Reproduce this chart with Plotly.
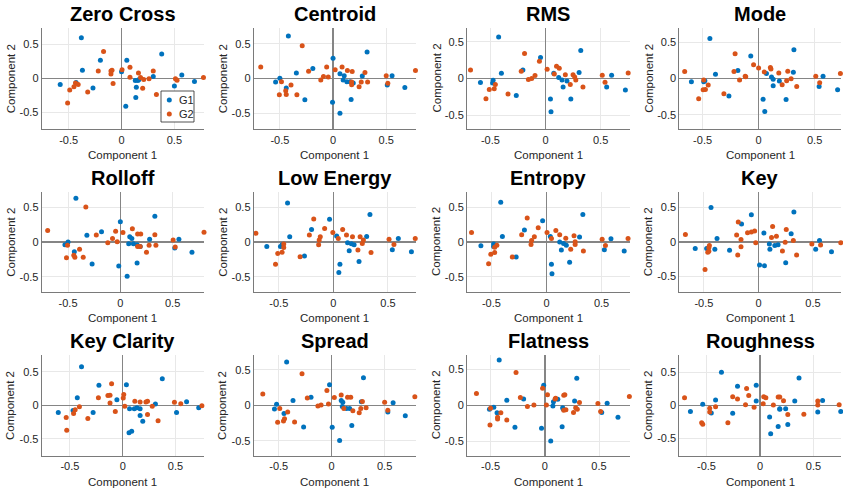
import plotly.graph_objects as go

# ---------------- data ----------------
titles = ["Zero Cross", "Centroid", "RMS", "Mode", "Rolloff", "Low Energy",
          "Entropy", "Key", "Key Clarity", "Spread", "Flatness", "Roughness"]
tick_values = [-0.5, 0, 0.5]
tick_labels = ["-0.5", "0", "0.5"]
group_names = ["G1", "G2"]

zero_cross_g1 = [(-0.38, 0.60), (-0.20, 0.27), (-0.37, 0.12), (-0.58, -0.09), (-0.43, -0.06), (-0.27, -0.14),
                 (0.00, 0.10), (0.05, 0.27), (0.38, 0.36), (0.30, 0.03), (0.13, -0.03), (0.155, -0.03),
                 (0.165, -0.015), (0.14, -0.13), (0.135, -0.28), (0.04, -0.41), (0.57, 0.05), (0.50, -0.11),
                 (0.69, -0.045)]
zero_cross_g2 = [(-0.76, 0.17), (-0.17, 0.40), (-0.22, 0.11), (-0.10, 0.11), (-0.09, 0.12), (-0.10, 0.065),
                 (-0.08, -0.075), (0.005, 0.13), (0.08, 0.165), (0.08, 0.02), (0.16, 0.08), (0.18, 0.015),
                 (0.21, -0.015), (0.26, -0.005), (0.20, -0.145), (0.30, 0.11), (0.33, -0.235), (-0.435, -0.065),
                 (-0.45, -0.12), (-0.41, -0.09), (-0.49, -0.17), (-0.32, -0.20), (-0.51, -0.36), (0.51, -0.005),
                 (0.525, -0.025), (0.775, 0.015)]

centroid_g1 = [(-0.42, 0.61), (0.32, 0.38), (0.00, 0.29), (-0.19, 0.145), (-0.345, 0.08), (-0.50, 0.005),
               (-0.54, -0.05), (-0.44, -0.135), (-0.265, -0.305), (-0.005, -0.34), (0.065, -0.50), (0.17, -0.30),
               (0.065, 0.07), (0.105, 0.04), (0.095, -0.02), (0.13, -0.045), (0.16, -0.045), (0.19, -0.065),
               (0.275, 0.035), (0.51, -0.095), (0.555, 0.04), (0.675, -0.13)]
centroid_g2 = [(-0.68, 0.165), (-0.29, 0.47), (-0.23, 0.105), (-0.06, 0.165), (-0.09, 0.03), (-0.045, 0.02),
               (-0.115, -0.02), (0.02, 0.125), (0.085, 0.165), (0.135, 0.115), (0.18, 0.10), (0.175, -0.05),
               (0.175, -0.09), (0.245, -0.12), (0.265, -0.05), (0.30, 0.085), (0.325, -0.05), (0.50, 0.04),
               (0.515, -0.07), (0.775, 0.115), (-0.485, -0.045), (-0.395, -0.095), (-0.445, -0.175),
               (-0.44, -0.23), (-0.505, -0.235), (-0.34, -0.235)]

rms_g1 = [(-0.425, 0.565), (-0.40, 0.07), (-0.59, -0.055), (-0.475, -0.025), (-0.48, -0.06), (-0.265, -0.23),
          (-0.205, 0.115), (-0.045, 0.285), (0.075, 0.07), (0.12, 0.015), (0.15, -0.02), (0.16, -0.115),
          (0.195, -0.035), (0.23, -0.28), (0.045, -0.28), (0.05, -0.45), (0.32, 0.38), (0.305, 0.08),
          (0.60, 0.045), (0.555, -0.115), (0.725, -0.155)]
rms_g2 = [(-0.68, 0.115), (-0.19, 0.34), (-0.22, 0.10), (-0.055, 0.235), (-0.095, 0.04), (-0.125, 0.0),
          (-0.155, -0.015), (0.015, 0.125), (0.10, 0.165), (0.125, 0.14), (0.08, 0.06), (0.18, 0.05),
          (0.25, 0.05), (0.265, 0.02), (0.275, -0.02), (0.225, -0.08), (0.34, -0.115), (0.515, 0.045),
          (0.54, -0.05), (0.75, 0.075), (-0.455, -0.08), (-0.465, -0.14), (-0.51, -0.15), (-0.54, -0.275),
          (-0.34, -0.21)]

mode_g1 = [(-0.435, 0.55), (-0.385, 0.06), (-0.60, -0.045), (-0.48, -0.03), (-0.49, -0.045), (-0.265, -0.24),
           (-0.185, 0.11), (-0.07, 0.31), (0.07, 0.07), (0.115, 0.02), (0.13, -0.01), (0.13, -0.10),
           (0.185, -0.035), (0.245, -0.29), (0.04, -0.285), (0.055, -0.455), (0.315, 0.395), (0.31, 0.085),
           (0.575, 0.03), (0.54, -0.11), (0.705, -0.155)]
mode_g2 = [(-0.66, 0.095), (-0.21, 0.34), (-0.22, 0.095), (-0.045, 0.19), (-0.12, 0.03), (-0.115, 0.025),
           (-0.17, -0.02), (0.0, 0.145), (0.105, 0.15), (0.11, 0.13), (0.05, 0.09), (0.18, 0.075),
           (0.26, 0.10), (0.29, -0.005), (0.25, -0.03), (0.21, -0.085), (0.34, -0.11), (0.51, 0.03),
           (0.545, -0.06), (0.73, 0.07), (-0.49, -0.02), (-0.45, -0.09), (-0.475, -0.15), (-0.495, -0.155),
           (-0.535, -0.28), (-0.31, -0.21)]

rolloff_g1 = [(-0.425, 0.625), (0.0, 0.29), (0.33, 0.37), (-0.18, 0.145), (-0.32, 0.095), (-0.50, 0.0),
              (-0.53, -0.04), (-0.44, -0.14), (-0.27, -0.315), (-0.015, -0.345), (0.065, -0.49), (0.16, -0.30),
              (0.09, 0.075), (0.11, 0.05), (0.08, -0.025), (0.125, -0.025), (0.16, -0.04), (0.19, -0.065),
              (0.28, 0.04), (0.52, -0.085), (0.56, 0.04), (0.685, -0.145)]
rolloff_g2 = [(-0.695, 0.165), (-0.33, 0.50), (-0.23, 0.10), (-0.045, 0.155), (-0.075, 0.05), (-0.03, 0.005),
              (-0.12, -0.01), (0.025, 0.135), (0.115, 0.19), (0.165, 0.115), (0.195, 0.115), (0.165, -0.065),
              (0.19, -0.065), (0.25, -0.145), (0.275, -0.045), (0.33, 0.105), (0.34, -0.045), (0.505, 0.03),
              (0.525, -0.07), (0.80, 0.14), (-0.505, -0.045), (-0.39, -0.105), (-0.445, -0.19), (-0.435, -0.22),
              (-0.515, -0.225), (-0.355, -0.22)]

low_energy_g1 = [(-0.42, 0.56), (-0.40, 0.075), (-0.61, -0.065), (-0.485, -0.065), (-0.47, -0.04),
                 (-0.265, -0.20), (-0.20, 0.18), (-0.035, 0.325), (0.03, 0.085), (0.13, -0.01), (0.145, -0.125),
                 (0.165, -0.025), (0.19, -0.04), (0.235, -0.28), (0.06, -0.32), (0.05, -0.435), (0.335, 0.395),
                 (0.305, 0.08), (0.595, 0.05), (0.54, -0.11), (0.715, -0.14)]
low_energy_g2 = [(-0.71, 0.125), (-0.18, 0.33), (-0.22, 0.10), (-0.08, 0.195), (-0.12, 0.075), (-0.13, 0.03),
                 (-0.135, -0.04), (-0.005, 0.135), (0.085, 0.18), (0.12, 0.10), (0.045, 0.05), (0.175, 0.075),
                 (0.245, 0.075), (0.275, 0.03), (0.265, -0.02), (0.225, -0.115), (0.345, -0.15), (0.51, 0.04),
                 (0.555, -0.035), (0.75, 0.05), (-0.455, -0.03), (-0.455, -0.08), (-0.47, -0.145),
                 (-0.51, -0.165), (-0.53, -0.32), (-0.305, -0.21)]

entropy_g1 = [(-0.415, 0.57), (-0.40, 0.08), (-0.595, -0.055), (-0.48, -0.03), (-0.48, -0.065), (-0.275, -0.215),
              (-0.20, 0.17), (-0.035, 0.305), (0.035, 0.08), (0.12, 0.0), (0.135, -0.115), (0.155, -0.02),
              (0.18, -0.045), (0.21, -0.29), (0.045, -0.32), (0.05, -0.455), (0.33, 0.395), (0.30, 0.07),
              (0.585, 0.045), (0.525, -0.11), (0.705, -0.13)]
entropy_g2 = [(-0.68, 0.135), (-0.175, 0.345), (-0.225, 0.105), (-0.075, 0.205), (-0.11, 0.075), (-0.135, 0.02),
              (-0.14, -0.035), (0.005, 0.135), (0.085, 0.165), (0.12, 0.105), (0.045, 0.05), (0.175, 0.055),
              (0.25, 0.09), (0.26, 0.005), (0.26, -0.035), (0.22, -0.105), (0.335, -0.13), (0.505, 0.04),
              (0.535, -0.05), (0.74, 0.05), (-0.45, -0.045), (-0.47, -0.075), (-0.47, -0.15), (-0.505, -0.175),
              (-0.525, -0.31), (-0.31, -0.215)]

key_g1 = [(-0.435, 0.50), (-0.38, 0.05), (-0.58, -0.095), (-0.475, -0.095), (-0.40, -0.105), (-0.265, -0.12),
          (-0.155, 0.26), (-0.065, 0.395), (0.05, 0.13), (0.10, -0.03), (0.105, -0.105), (0.15, -0.05),
          (0.18, -0.04), (0.25, -0.30), (0.01, -0.335), (0.055, -0.345), (0.325, 0.435), (0.30, 0.12),
          (0.56, 0.02), (0.525, -0.105), (0.67, -0.14)]
key_g2 = [(-0.67, 0.11), (-0.185, 0.29), (-0.20, 0.10), (-0.10, 0.135), (-0.065, 0.145), (-0.035, 0.16),
          (-0.16, 0.035), (-0.16, -0.07), (-0.19, -0.19), (-0.025, -0.01), (0.13, 0.225), (0.12, 0.065),
          (0.165, 0.085), (0.255, 0.18), (0.245, -0.005), (0.22, -0.13), (0.32, 0.02), (0.35, -0.19),
          (0.49, -0.03), (0.57, -0.045), (0.755, -0.01), (-0.45, -0.05), (-0.455, -0.085), (-0.455, -0.135),
          (-0.465, -0.15), (-0.49, -0.40)]

key_clarity_g1 = [(-0.39, 0.575), (-0.225, 0.30), (-0.43, 0.115), (-0.61, -0.105), (-0.47, -0.075),
                  (-0.28, -0.105), (-0.055, 0.085), (0.035, 0.305), (0.375, 0.395), (0.31, 0.02), (0.065, -0.05),
                  (0.11, -0.05), (0.135, -0.035), (0.165, -0.05), (0.165, -0.15), (0.19, -0.235), (0.06, -0.41),
                  (0.085, -0.385), (0.605, 0.055), (0.51, -0.105), (0.72, -0.035)]
key_clarity_g2 = [(-0.775, 0.145), (-0.105, 0.32), (-0.23, 0.115), (-0.14, 0.145), (-0.12, 0.15), (-0.12, 0.035),
                  (-0.07, -0.09), (0.01, 0.16), (0.005, 0.11), (0.02, -0.015), (0.115, 0.06), (0.165, 0.05),
                  (0.22, 0.05), (0.235, 0.06), (0.28, -0.015), (0.235, -0.135), (0.335, -0.23), (0.49, 0.045),
                  (0.55, 0.025), (0.75, -0.005), (-0.41, -0.02), (-0.45, -0.065), (-0.465, -0.12),
                  (-0.535, -0.18), (-0.53, -0.37), (-0.33, -0.195)]

spread_g1 = [(-0.425, 0.61), (-0.02, 0.29), (0.30, 0.39), (-0.195, 0.115), (-0.365, 0.07), (-0.52, 0.015),
             (-0.54, -0.05), (-0.45, -0.115), (-0.265, -0.305), (0.005, -0.31), (0.075, -0.495), (0.19, -0.285),
             (0.09, 0.07), (0.105, 0.045), (0.10, -0.015), (0.14, -0.045), (0.17, -0.045), (0.28, 0.05),
             (0.53, -0.095), (0.58, 0.035), (0.695, -0.145)]
spread_g2 = [(-0.65, 0.16), (-0.28, 0.445), (-0.23, 0.105), (-0.045, 0.21), (-0.10, 0.005), (-0.03, 0.02),
             (-0.13, -0.01), (0.025, 0.11), (0.09, 0.145), (0.15, 0.115), (0.18, 0.115), (0.115, -0.045),
             (0.20, -0.075), (0.26, -0.105), (0.275, -0.045), (0.29, 0.055), (0.325, -0.035), (0.50, 0.045),
             (0.53, -0.07), (0.785, 0.12), (-0.49, -0.045), (-0.415, -0.095), (-0.445, -0.19), (-0.455, -0.22),
             (-0.51, -0.24), (-0.35, -0.235)]

flatness_g1 = [(-0.42, 0.635), (-0.01, 0.28), (0.295, 0.38), (-0.195, 0.09), (-0.35, 0.07), (-0.47, -0.025),
               (-0.51, -0.055), (-0.44, -0.105), (-0.275, -0.305), (-0.03, -0.32), (0.055, -0.50), (0.16, -0.30),
               (0.08, 0.05), (0.075, -0.01), (0.12, 0.085), (0.165, -0.035), (0.17, -0.05), (0.275, 0.06),
               (0.525, -0.10), (0.575, 0.03), (0.675, -0.165)]
flatness_g2 = [(-0.63, 0.165), (-0.265, 0.46), (-0.225, 0.11), (-0.02, 0.24), (-0.10, 0.005), (0.015, 0.005),
               (-0.16, -0.015), (0.025, 0.15), (0.10, 0.10), (0.095, 0.09), (0.175, 0.14), (0.185, 0.15),
               (0.175, -0.07), (0.195, -0.06), (0.265, -0.10), (0.285, -0.035), (0.30, -0.055), (0.32, 0.04),
               (0.49, 0.025), (0.515, -0.085), (0.78, 0.125), (-0.50, -0.04), (-0.405, -0.105), (-0.435, -0.165),
               (-0.435, -0.19), (-0.505, -0.275), (-0.35, -0.205)]

roughness_g1 = [(-0.36, 0.50), (-0.21, 0.29), (-0.035, 0.305), (-0.035, 0.065), (-0.415, 0.08), (-0.535, 0.015),
                (-0.65, -0.095), (-0.455, -0.115), (-0.255, -0.12), (0.09, -0.175), (0.10, -0.43), (0.17, -0.32),
                (0.185, -0.05), (0.24, -0.05), (0.26, -0.29), (0.325, 0.065), (0.365, 0.415), (0.54, -0.10),
                (0.585, 0.075), (0.755, -0.095), (0.185, -0.06)]
roughness_g2 = [(-0.705, 0.115), (-0.30, -0.265), (-0.545, -0.265), (-0.535, -0.285), (-0.47, -0.045),
                (-0.47, -0.10), (-0.415, -0.02), (-0.255, 0.13), (-0.21, 0.095), (-0.125, 0.255), (-0.105, 0.15),
                (-0.135, 0.01), (-0.055, -0.03), (0.03, 0.025), (0.035, 0.13), (0.055, 0.115), (0.125, 0.005),
                (0.17, 0.125), (0.185, 0.125), (0.22, 0.07), (0.26, -0.14), (0.41, -0.135), (0.54, 0.065),
                (0.54, 0.005), (0.74, 0.01)]

panel_groups = [
    (zero_cross_g1, zero_cross_g2), (centroid_g1, centroid_g2), (rms_g1, rms_g2), (mode_g1, mode_g2),
    (rolloff_g1, rolloff_g2), (low_energy_g1, low_energy_g2), (entropy_g1, entropy_g2), (key_g1, key_g2),
    (key_clarity_g1, key_clarity_g2), (spread_g1, spread_g2), (flatness_g1, flatness_g2),
    (roughness_g1, roughness_g2),
]

# ---------------- layout / style ----------------
x_ranges = [[-0.755, 0.78], [-0.746, 0.78], [-0.712, 0.764], [-0.708, 0.738],
            [-0.752, 0.80], [-0.73, 0.757], [-0.721, 0.755], [-0.726, 0.76],
            [-0.767, 0.77], [-0.736, 0.796], [-0.717, 0.783], [-0.754, 0.76]]
y_ranges = [[-0.75, 0.75], [-0.73, 0.73], [-0.69, 0.69], [-0.70, 0.70],
            [-0.72, 0.72], [-0.72, 0.72], [-0.72, 0.72], [-0.73, 0.73],
            [-0.75, 0.75], [-0.71, 0.71], [-0.705, 0.705], [-0.763, 0.763]]

W, H = 843, 493
col_px = [(41.7, 204.0), (253.7, 416.0), (467.0, 629.7), (679.3, 841.3)]
row_px = [(27.7, 129.3), (191.7, 292.3), (355.0, 455.7)]
col_dom = [[a / W, b / W] for a, b in col_px]
row_dom = [[1 - b / H, 1 - a / H] for a, b in row_px]

C_G1 = "#0072BD"
C_G2 = "#D95319"
TXT = "#262626"
FONT = "Liberation Sans, Arial, Helvetica, sans-serif"

fig = go.Figure()
annotations = []
layout_axes = {}

for i, (title, (g1, g2)) in enumerate(zip(titles, panel_groups)):
    r, c = divmod(i, 4)
    sfx = "" if i == 0 else str(i + 1)
    xref, yref = "x" + sfx, "y" + sfx
    for pts, col, name in ((g1, C_G1, group_names[0]), (g2, C_G2, group_names[1])):
        fig.add_trace(go.Scatter(
            x=[p[0] for p in pts], y=[p[1] for p in pts], mode="markers", name=name,
            marker=dict(color=col, size=5, line=dict(width=0)),
            xaxis=xref, yaxis=yref, showlegend=False, cliponaxis=False, hoverinfo="skip",
        ))
    common = dict(tickvals=tick_values, ticktext=tick_labels, showgrid=True, gridcolor="#e8e8e8",
                  gridwidth=1, zeroline=True, zerolinecolor="#858585", zerolinewidth=1.5,
                  showline=True, linecolor="#7a7a7a", linewidth=1, ticks="",
                  tickfont=dict(size=11, color=TXT, family=FONT), fixedrange=True)
    layout_axes["xaxis" + sfx] = dict(domain=col_dom[c], anchor=yref, range=x_ranges[i], **common)
    layout_axes["yaxis" + sfx] = dict(domain=row_dom[r], anchor=xref, range=y_ranges[i], **common)

    annotations.append(dict(text="<b>" + title + "</b>", xref=xref + " domain", yref=yref + " domain",
                            x=0.5, y=1, xanchor="center", yanchor="middle", yshift=14, showarrow=False,
                            font=dict(size=20, color="#000000", family=FONT)))
    annotations.append(dict(text="Component 1", xref=xref + " domain", yref=yref + " domain",
                            x=0.5, y=0, xanchor="center", yanchor="middle", yshift=-26, showarrow=False,
                            font=dict(size=11.5, color=TXT, family=FONT)))
    annotations.append(dict(text="Component 2", xref=xref + " domain", yref=yref + " domain",
                            x=0, y=0.5, xanchor="center", yanchor="middle", xshift=-31, textangle=-90,
                            showarrow=False, font=dict(size=11.5, color=TXT, family=FONT)))

# manual compact legend inside the first panel (MATLAB style)
lg_x0, lg_x1, lg_y0, lg_y1 = 161 / W, 194 / W, 1 - 122 / H, 1 - 91 / H
shapes = [dict(type="rect", xref="paper", yref="paper", x0=lg_x0, x1=lg_x1, y0=lg_y0, y1=lg_y1,
               line=dict(color="#262626", width=0.8), fillcolor="white", layer="above")]
for k, (name, col) in enumerate(zip(group_names, [C_G1, C_G2])):
    yc = 1 - (100 + 14 * k) / H
    shapes.append(dict(type="circle", xref="paper", yref="paper", xsizemode="pixel", ysizemode="pixel",
                       xanchor=169.3 / W, yanchor=yc, x0=-2.5, x1=2.5, y0=-2.5, y1=2.5,
                       fillcolor=col, line=dict(width=0), layer="above"))
    annotations.append(dict(text=name, xref="paper", yref="paper", x=176.5 / W, y=yc, xanchor="left",
                            yanchor="middle", showarrow=False, font=dict(size=11, color=TXT, family=FONT)))

fig.update_layout(width=W, height=H, margin=dict(l=0, r=0, t=0, b=0), paper_bgcolor="white",
                  plot_bgcolor="white", font=dict(family=FONT, color=TXT), annotations=annotations,
                  shapes=shapes, showlegend=False, hovermode=False, **layout_axes)

fig.write_html("out.html", config={"displayModeBar": False, "staticPlot": True},
               post_script="document.body.style.margin='0';document.body.style.padding='0';"
                           "document.body.style.overflow='hidden';")
